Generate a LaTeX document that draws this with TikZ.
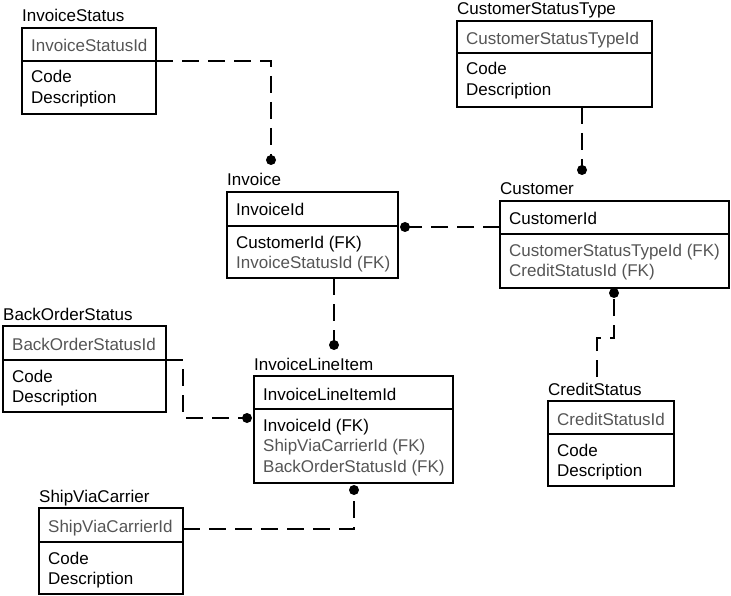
\documentclass[tikz,border=0pt]{standalone}
\usepackage{fontspec}
\setmainfont{Liberation Sans}
\definecolor{keyg}{RGB}{85,85,85}
\tikzset{
 erbox/.style={draw, line width=1.1pt, rectangle, inner sep=0pt, outer sep=0pt},
 txt/.style={anchor=base west, inner sep=0pt, font=\fontsize{17}{20}\selectfont},
 fk/.style={txt, text=keyg},
 rel/.style={line width=1.1pt, dash pattern=on 17pt off 9pt},
 dot/.style={circle, fill, inner sep=0pt, minimum size=10pt},
}
\newcommand\entity[7]{%
 \node[erbox, minimum width=#4pt, minimum height=#5pt, anchor=north west] (#1) at (#2,#3) {};
 \node[txt] (#1-title) at ([yshift=6pt]#1.north west) {#7};
 \draw[line width=1.1pt] ([yshift=-#6pt]#1.north west) -- ([yshift=-#6pt]#1.north east);
 \coordinate (#1-div) at ([yshift=-#6pt]#1.north west);
}
\newcommand\fld[5]{\node[#2] (#1) at ([xshift=9pt,yshift=-#3pt]#4) {#5};}
\begin{document}
\begin{tikzpicture}[x=1pt,y=-1pt]
\useasboundingbox (0,0) rectangle (731,596);

\entity{is}{22}{28}{134}{86}{33}{InvoiceStatus}
\fld{is-k}{fk}{24}{is.north west}{InvoiceStatusId}
\fld{is-a1}{txt}{22}{is-div}{Code}
\fld{is-a2}{txt}{42.5}{is-div}{Description}

\entity{cst}{457}{21}{195}{86}{32}{CustomerStatusType}
\fld{cst-k}{fk}{24}{cst.north west}{CustomerStatusTypeId}
\fld{cst-a1}{txt}{22}{cst-div}{Code}
\fld{cst-a2}{txt}{42.5}{cst-div}{Description}

\entity{inv}{227}{192}{171}{86}{34}{Invoice}
\fld{inv-k}{txt}{24}{inv.north west}{InvoiceId}
\fld{inv-a1}{txt}{22}{inv-div}{CustomerId (FK)}
\fld{inv-a2}{fk}{42.5}{inv-div}{InvoiceStatusId (FK)}

\entity{cust}{500}{201}{229}{87}{33}{Customer}
\fld{cust-k}{txt}{24}{cust.north west}{CustomerId}
\fld{cust-a1}{fk}{22}{cust-div}{CustomerStatusTypeId (FK)}
\fld{cust-a2}{fk}{42.5}{cust-div}{CreditStatusId (FK)}

\entity{bos}{3}{326}{163}{86}{34}{BackOrderStatus}
\fld{bos-k}{fk}{24}{bos.north west}{BackOrderStatusId}
\fld{bos-a1}{txt}{22}{bos-div}{Code}
\fld{bos-a2}{txt}{42.5}{bos-div}{Description}

\entity{ili}{254}{376}{199}{107}{33}{InvoiceLineItem}
\fld{ili-k}{txt}{24}{ili.north west}{InvoiceLineItemId}
\fld{ili-a1}{txt}{22}{ili-div}{InvoiceId (FK)}
\fld{ili-a2}{fk}{42.5}{ili-div}{ShipViaCarrierId (FK)}
\fld{ili-a3}{fk}{63}{ili-div}{BackOrderStatusId (FK)}

\entity{svc}{39}{508}{144}{86}{34}{ShipViaCarrier}
\fld{svc-k}{fk}{24}{svc.north west}{ShipViaCarrierId}
\fld{svc-a1}{txt}{22}{svc-div}{Code}
\fld{svc-a2}{txt}{42.5}{svc-div}{Description}

\entity{cs}{548}{401}{126}{85}{33}{CreditStatus}
\fld{cs-k}{fk}{24}{cs.north west}{CreditStatusId}
\fld{cs-a1}{txt}{22}{cs-div}{Code}
\fld{cs-a2}{txt}{42.5}{cs-div}{Description}

% relationship ends
\node[dot] (d1) at (271,160) {};
\node[dot] (d2) at (582,170) {};
\node[dot] (d3) at (405,227) {};
\node[dot] (d4) at (334,345) {};
\node[dot] (d5) at (247,418) {};
\node[dot] (d6) at (354,490) {};
\node[dot] (d7) at (614,293) {};
\coordinate (csend) at (597,377);

\draw[rel] (is-div -| is.east) -| (d1.center);
\draw[rel] (cst.south -| d2) -- (d2.center);
\draw[rel] (cust.west |- d3) -- (d3.center);
\draw[rel] (inv.south -| d4) -- (d4.center);
\draw[rel] (bos-div -| bos.east) -- ++(17,0) |- (d5.center);
\draw[rel] ([yshift=-21pt]svc.north east) -| (d6.center);
\draw[rel] (csend) -- ++(0,-39) -| (d7.center);
\end{tikzpicture}
\end{document}
